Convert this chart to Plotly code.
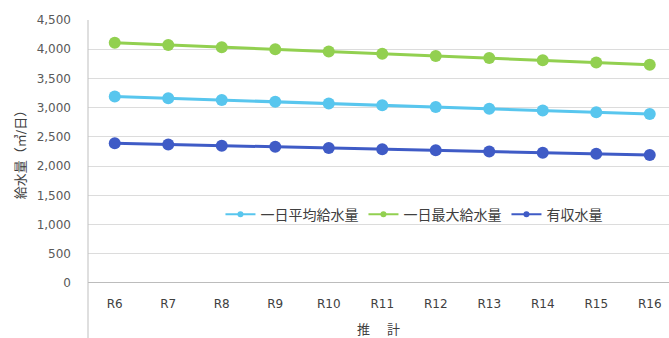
import plotly.graph_objects as go

categories = ["R6", "R7", "R8", "R9", "R10", "R11", "R12", "R13", "R14", "R15", "R16"]
avg_supply = [3190, 3160, 3130, 3100, 3070, 3040, 3010, 2980, 2950, 2920, 2890]
max_supply = [4110, 4072, 4035, 3998, 3960, 3922, 3885, 3848, 3810, 3772, 3735]
revenue_water = [2390, 2370, 2350, 2330, 2310, 2290, 2270, 2250, 2230, 2210, 2190]
y_ticks = [0, 500, 1000, 1500, 2000, 2500, 3000, 3500, 4000, 4500]

FONT = "DejaVu Sans, Noto Sans CJK JP, sans-serif"

series = [
    ("一日平均給水量", avg_supply, "#58C6EE"),
    ("一日最大給水量", max_supply, "#92D050"),
    ("有収水量", revenue_water, "#3F5BC6"),
]

fig = go.Figure()
for name, vals, color in series:
    fig.add_trace(go.Scatter(
        x=categories, y=vals, name=name, mode="lines+markers",
        line=dict(color=color, width=3),
        marker=dict(color=color, size=12),
        showlegend=False,
    ))
# legend entries (thin line with small dot, as in the reference)
for name, vals, color in series:
    fig.add_trace(go.Scatter(
        x=[None], y=[None], name=name, mode="lines+markers",
        line=dict(color=color, width=2),
        marker=dict(color=color, size=6),
        showlegend=True,
    ))

fig.update_layout(
    width=669, height=338,
    margin=dict(l=88, r=0, t=20, b=55),
    paper_bgcolor="white", plot_bgcolor="white",
    font=dict(family=FONT, color="#595959", size=12),
    showlegend=True,
    legend=dict(
        orientation="h", x=0.228, y=0.26, xanchor="left", yanchor="middle",
        bgcolor="rgba(0,0,0,0)", font=dict(size=14, color="#404040"),
        itemwidth=30, tracegroupgap=0,
    ),
    xaxis=dict(
        type="category", range=[-0.5, 10.36],
        showgrid=False, showline=False, zeroline=False,
        ticks="", ticklabelstandoff=12,
        tickfont=dict(size=12, color="#404040"),
        automargin=False,
        title=dict(text="推　 計", font=dict(size=13, color="#404040"), standoff=14),
    ),
    yaxis=dict(
        range=[0, 4500], tickvals=y_ticks, tickformat=",",
        showgrid=True, gridcolor="#DCDCDC", gridwidth=1,
        zeroline=False, showline=False, ticks="",
        ticklabelstandoff=16,
        tickfont=dict(size=12, color="#595959"),
        title=dict(text="給水量（㎥/日）", font=dict(size=13, color="#404040"), standoff=8),
    ),
)

# 0 baseline and left category divider
fig.add_shape(type="line", xref="paper", yref="y", x0=0, x1=1, y0=0, y1=0,
              line=dict(color="#A6A6A6", width=1.5))
fig.add_shape(type="line", xref="paper", yref="paper", x0=0, x1=0, y0=-0.215, y1=1,
              line=dict(color="#BFBFBF", width=1))

fig.write_html("out.html")
